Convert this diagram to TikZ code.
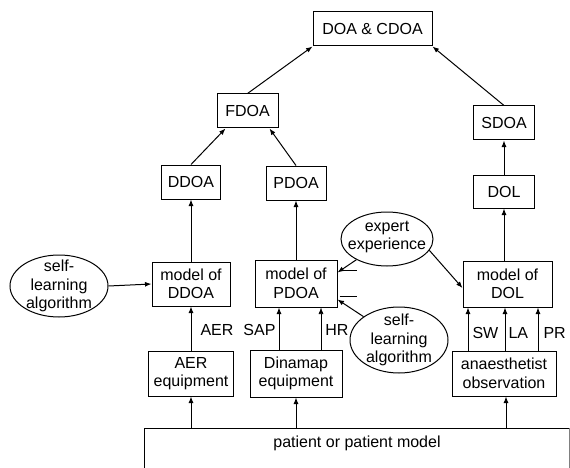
\documentclass[tikz,border=0pt]{standalone}
\usepackage{fontspec}
\setmainfont{Liberation Sans}
\usetikzlibrary{arrows.meta,calc,shapes.geometric}
\begin{document}
\begin{tikzpicture}[x=1pt,y=-1pt,
  every node/.style={font=\fontsize{16}{18.5}\selectfont, align=center},
  box/.style={draw, line width=1pt, inner sep=0pt},
  oval/.style={draw, ellipse, line width=1pt, inner sep=0pt},
  arr/.style={-{Latex[length=6.5pt,width=5pt]}, line width=1pt},
  lab/.style={inner sep=1pt}]
\useasboundingbox (0,0) rectangle (570,468);

% boxes
\node[box, minimum width=119pt, minimum height=34pt] (doa) at (372.5,29) {DOA \& CDOA};
\node[box, minimum width=61pt, minimum height=34pt] (fdoa) at (247.5,111) {FDOA};
\node[box, minimum width=59pt, minimum height=34pt] (ddoa) at (191,182) {DDOA};
\node[box, minimum width=60pt, minimum height=34pt] (pdoa) at (296,183) {PDOA};
\node[box, minimum width=61pt, minimum height=34pt] (sdoa) at (504,123) {SDOA};
\node[box, minimum width=61pt, minimum height=33pt] (dol) at (504,191.5) {DOL};
\node[box, minimum width=78pt, minimum height=44pt] (mddoa) at (191,284) {model of\\DDOA};
\node[box, minimum width=82pt, minimum height=47pt] (mpdoa) at (296,283.5) {model of\\PDOA};
\node[box, minimum width=89pt, minimum height=46pt] (mdol) at (507.5,284) {model of\\DOL};
\node[box, minimum width=85pt, minimum height=45pt] (aereq) at (191,373.5) {AER\\equipment};
\node[box, minimum width=92pt, minimum height=47pt] (dinamap) at (296,373.5) {Dinamap\\equipment};
\node[box, minimum width=104pt, minimum height=45pt] (anaes) at (504,373.5) {anaesthetist\\observation};

% ellipses
\node[oval, minimum width=98pt, minimum height=62pt] (sla1) at (59,286) {};
\node (sla1t) at (59,286) {self-\\learning\\algorithm};
\node[oval, minimum width=92pt, minimum height=54pt] (expert) at (387,239) {};
\node (expertt) at (387,237) {expert\\experience};
\node[oval, minimum width=98pt, minimum height=66pt] (sla2) at (399,340) {};
\node (sla2t) at (399,340) {self-\\learning\\algorithm};

% patient
\draw[line width=1pt] (144,468) -- (144,428) -- (569,428);
\draw[line width=0.5pt, black!50] (569,428) -- (569,468);
\coordinate (ptop) at (144,428);
\node (patient) at (357,443) {patient or patient model};

% top arrows
\draw[arr] (ddoa.north) -- ($(fdoa.south)+(-22,0)$);
\draw[arr] (pdoa.north) -- ($(fdoa.south)+(22,0)$);
\draw[arr] (fdoa.north) -- (doa.south west);
\draw[arr] (sdoa.north) -- (doa.south east);
\draw[arr] (dol.north) -- (sdoa.south);
\draw[arr] (mdol.north -| dol.south) -- (dol.south);
\draw[arr] (mddoa.north) -- (ddoa.south);
\draw[arr] (mpdoa.north) -- (pdoa.south);

% side inputs
\draw[arr] (sla1.east) -- (mddoa.west);
\draw[arr] (expert) -- ($(mpdoa.north east)+(0,13)$);
\draw[arr] (expert.-15) -- ($(mdol.west)+(0,4)$);
\draw[arr] (sla2) -- ($(mpdoa.south east)+(0,-8)$);
\draw[line width=1pt] ($(mpdoa.north east)+(2,11)$) -- +(17,0);
\draw[line width=1pt] ($(mpdoa.south east)+(2,-11)$) -- +(17,0);

% measurement arrows
\draw[arr] (aereq.north) -- node[lab, anchor=west, xshift=8pt, yshift=-1pt] {AER} (mddoa.south);
\draw[arr] ($(dinamap.north)+(-17,0)$) coordinate (sapb) -- node[lab, anchor=east, xshift=-2pt, yshift=-1pt] {SAP} (sapb |- mpdoa.south);
\draw[arr, line width=0.6pt] ($(dinamap.north)+(25,0)$) coordinate (hrb) -- node[lab, anchor=west, xshift=3pt, yshift=-1pt] {HR} (hrb |- mpdoa.south);
\draw[arr] ($(anaes.north)+(-36,0)$) coordinate (swb) -- node[lab, anchor=west, xshift=3pt, yshift=-4pt] {SW} (swb |- mdol.south);
\draw[arr] ($(anaes.north)+(1,0)$) coordinate (lab) -- node[lab, anchor=west, xshift=2pt, yshift=-4pt] {LA} (lab |- mdol.south);
\draw[arr] ($(anaes.north)+(34,0)$) coordinate (prb) -- node[lab, anchor=west, xshift=4pt, yshift=-4pt] {PR} (prb |- mdol.south);

% patient arrows
\draw[arr] (ptop -| aereq.south) -- (aereq.south);
\draw[arr] (ptop -| dinamap.south) -- (dinamap.south);
\draw[arr] ($(ptop -| anaes.south)+(2,0)$) coordinate (pab) -- (pab |- anaes.south);
\end{tikzpicture}
\end{document}
